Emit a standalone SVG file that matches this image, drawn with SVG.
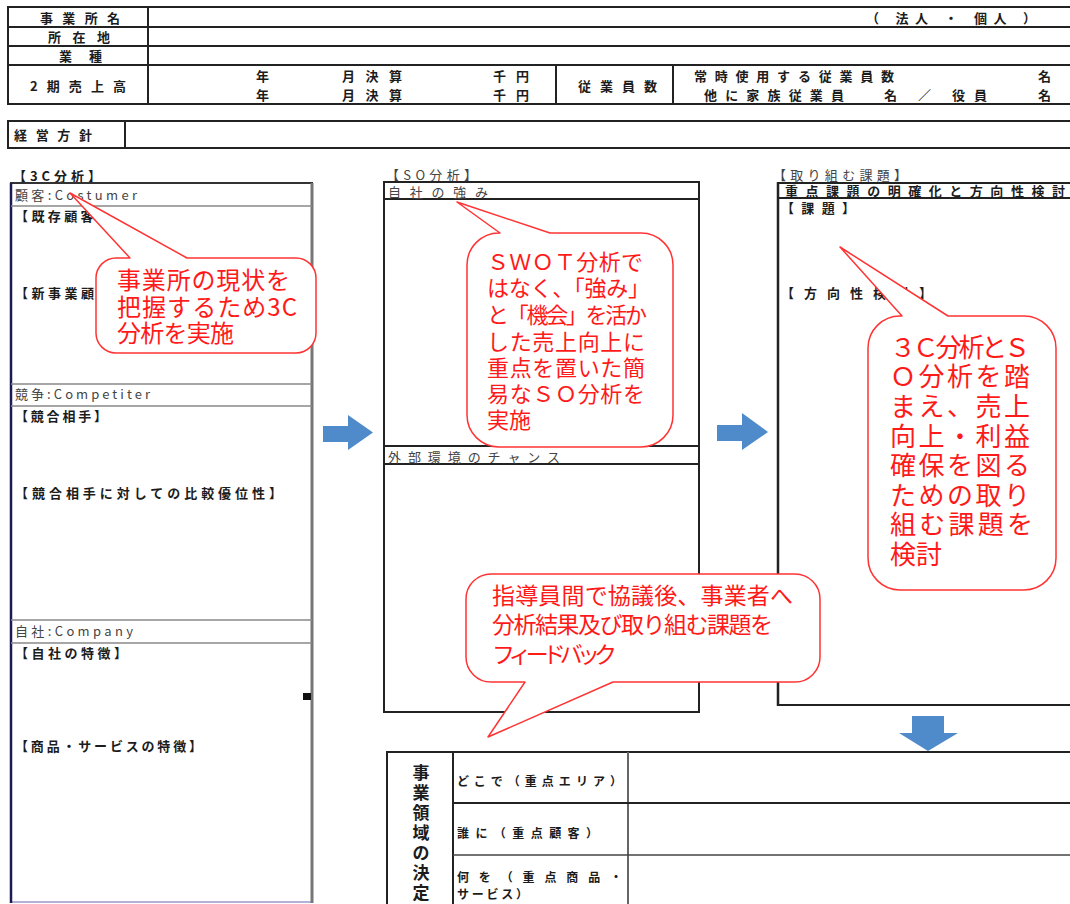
<svg xmlns="http://www.w3.org/2000/svg" width="1070" height="904" viewBox="0 0 1070 904">
<style>
text{font-family:"Noto Sans CJK JP","Noto Sans",sans-serif;}
.f{font-size:13px;fill:#1c1c1c;font-weight:bold;dominant-baseline:central;}
.g{font-size:13px;fill:#444;dominant-baseline:central;}
.v{font-size:17px;fill:#1c1c1c;font-weight:bold;dominant-baseline:central;text-anchor:middle;}
.tb{fill:none;stroke:#222;stroke-width:2;}
.ln{stroke:#222;stroke-width:2;fill:none;}
.gl{stroke:#888;stroke-width:1.5;fill:none;}
.co{fill:#fff;stroke:#ff3333;stroke-width:1.5;stroke-linejoin:round;}
.ct{fill:#ff1a1a;dominant-baseline:central;}
.arr{fill:#4f8bcb;}
</style>

<g id="header-table">
  <rect x="8" y="7" width="1070" height="97" class="tb"/>
  <line x1="8" y1="27" x2="1078" y2="27" class="ln"/>
  <line x1="8" y1="46" x2="1078" y2="46" class="ln"/>
  <line x1="8" y1="65" x2="1078" y2="65" class="ln"/>
  <line x1="148" y1="7" x2="148" y2="104" class="ln"/>
  <line x1="556" y1="65" x2="556" y2="104" class="ln"/>
  <line x1="673" y1="65" x2="673" y2="104" class="ln"/>
  <text x="40" y="17" class="f" textLength="80" lengthAdjust="spacing">事業所名</text>
  <text x="48" y="36.5" class="f" textLength="62" lengthAdjust="spacing">所在地</text>
  <text x="59" y="55.5" class="f" textLength="43" lengthAdjust="spacing">業種</text>
  <text x="30" y="85" class="f" textLength="96" lengthAdjust="spacing">2期売上高</text>
  <text x="866" y="17" class="f" textLength="170" lengthAdjust="spacing">（ 法人 ・ 個人 ）</text>
  <text x="256" y="75.5" class="f">年</text>
  <text x="342" y="75.5" class="f" textLength="60" lengthAdjust="spacing">月決算</text>
  <text x="493" y="75.5" class="f" textLength="36" lengthAdjust="spacing">千円</text>
  <text x="256" y="94.5" class="f">年</text>
  <text x="342" y="94.5" class="f" textLength="60" lengthAdjust="spacing">月決算</text>
  <text x="493" y="94.5" class="f" textLength="36" lengthAdjust="spacing">千円</text>
  <text x="578" y="85" class="f" textLength="79" lengthAdjust="spacing">従業員数</text>
  <text x="694" y="75.5" class="f" textLength="200" lengthAdjust="spacing">常時使用する従業員数</text>
  <text x="1038" y="75.5" class="f">名</text>
  <text x="704" y="94.5" class="f" textLength="140" lengthAdjust="spacing">他に家族従業員</text>
  <text x="884" y="94.5" class="f" textLength="103" lengthAdjust="spacing">名 ／ 役員</text>
  <text x="1038" y="94.5" class="f">名</text>
</g>

<g id="policy-row">
  <rect x="8" y="121" width="1070" height="27" class="tb"/>
  <line x1="125" y1="121" x2="125" y2="148" class="ln"/>
  <text x="14" y="134.5" class="f" textLength="78" lengthAdjust="spacing">経営方針</text>
</g>

<g id="analysis-3c">
  <text x="13" y="175" class="f" textLength="88" lengthAdjust="spacing">【3C分析】</text>
  <line x1="10" y1="183" x2="313" y2="183" stroke="#333" stroke-width="2"/>
  <line x1="10" y1="902" x2="313" y2="902" stroke="#9999cc" stroke-width="1.5"/>
  <line x1="11" y1="183" x2="11" y2="903" stroke="#1a1a55" stroke-width="2.5"/>
  <line x1="312" y1="183" x2="312" y2="903" stroke="#777" stroke-width="3"/>
  <line x1="11" y1="206" x2="312" y2="206" class="gl"/>
  <line x1="11" y1="384" x2="312" y2="384" class="gl"/>
  <line x1="11" y1="406" x2="312" y2="406" class="gl"/>
  <line x1="11" y1="620" x2="312" y2="620" class="gl"/>
  <line x1="11" y1="643" x2="312" y2="643" class="gl"/>
  <rect x="303" y="693" width="8" height="7" fill="#111"/>
  <text x="15" y="194" class="g" textLength="122" lengthAdjust="spacing">顧客:Costumer</text>
  <text x="15" y="215" class="f" textLength="95" lengthAdjust="spacing">【既存顧客】</text>
  <text x="15" y="292" class="f" textLength="112" lengthAdjust="spacing">【新事業顧客】</text>
  <text x="15" y="393" class="g" textLength="135" lengthAdjust="spacing">競争:Competiter</text>
  <text x="15" y="415" class="f" textLength="92" lengthAdjust="spacing">【競合相手】</text>
  <text x="15" y="492" class="f" textLength="267" lengthAdjust="spacing">【競合相手に対しての比較優位性】</text>
  <text x="15" y="630" class="g" textLength="118" lengthAdjust="spacing">自社:Company</text>
  <text x="15" y="652" class="f" textLength="112" lengthAdjust="spacing">【自社の特徴】</text>
  <text x="15" y="745" class="f" textLength="187" lengthAdjust="spacing">【商品・サービスの特徴】</text>
</g>

<g id="analysis-so">
  <text x="386" y="174" class="g" textLength="91" lengthAdjust="spacing">【SO分析】</text>
  <rect x="384" y="182" width="315" height="530" fill="none" stroke="#222" stroke-width="2"/>
  <line x1="384" y1="199" x2="699" y2="199" class="ln"/>
  <line x1="384" y1="446" x2="699" y2="446" class="ln"/>
  <line x1="384" y1="464" x2="699" y2="464" class="ln"/>
  <text x="388" y="191" class="g" textLength="100" lengthAdjust="spacing">自社の強み</text>
  <text x="388" y="456" class="g" textLength="172" lengthAdjust="spacing">外部環境のチャンス</text>
</g>

<g id="issues">
  <text x="773" y="174" class="g" textLength="134" lengthAdjust="spacing">【取り組む課題】</text>
  <line x1="778" y1="183" x2="1075" y2="183" class="ln"/>
  <line x1="778" y1="198" x2="1075" y2="198" class="ln"/>
  <line x1="778" y1="705" x2="1075" y2="705" class="ln"/>
  <line x1="778" y1="182" x2="778" y2="706" stroke="#222" stroke-width="2.5"/>
  <text x="785" y="190.5" class="f" textLength="280" lengthAdjust="spacing">重点課題の明確化と方向性検討</text>
  <text x="781" y="207" class="f" textLength="74" lengthAdjust="spacing">【課題】</text>
  <text x="781" y="292" class="f" textLength="151" lengthAdjust="spacing">【方向性検討】</text>
</g>

<g id="business-domain">
  <rect x="387" y="752" width="700" height="200" fill="none" stroke="#222" stroke-width="2"/>
  <line x1="453" y1="752" x2="453" y2="904" class="ln"/>
  <line x1="628" y1="752" x2="628" y2="904" stroke="#666" stroke-width="2"/>
  <line x1="453" y1="803" x2="1075" y2="803" class="ln"/>
  <line x1="453" y1="855" x2="1075" y2="855" stroke="#444" stroke-width="1.5"/>
  <text x="421" y="771" class="v">事</text>
  <text x="421" y="791" class="v">業</text>
  <text x="421" y="811" class="v">領</text>
  <text x="421" y="831" class="v">域</text>
  <text x="421" y="851" class="v">の</text>
  <text x="421" y="871" class="v">決</text>
  <text x="421" y="891" class="v">定</text>
  <text x="457" y="780" class="f" style="font-size:12px" textLength="165" lengthAdjust="spacing">どこで（重点エリア）</text>
  <text x="457" y="832" class="f" style="font-size:12px" textLength="141" lengthAdjust="spacing">誰に（重点顧客）</text>
  <text x="457" y="876" class="f" style="font-size:12px" textLength="165" lengthAdjust="spacing">何を（重点商品・</text>
  <text x="457" y="893" class="f" style="font-size:12px" textLength="71" lengthAdjust="spacing">サービス）</text>
</g>

<g id="connectors">
  <path class="arr" d="M323 426 L348 426 L348 415 L373 432.5 L348 450 L348 442 L323 442 Z"/>
  <path class="arr" d="M717 425 L742 425 L742 413 L768 432 L742 450 L742 441 L717 441 Z"/>
  <path class="arr" d="M912 716 L944 716 L944 733 L958 733 L928 751 L899 733 L912 733 Z"/>
</g>

<g id="callout-3c">
  <path class="co" d="M116 258 L130 258 L70 193 L187 258 L296 258 A20 20 0 0 1 316 278 L316 333 A20 20 0 0 1 296 353 L116 353 A20 20 0 0 1 96 333 L96 278 A20 20 0 0 1 116 258 Z"/>
  <text x="117" y="278" class="ct" style="font-size:24px" textLength="173" lengthAdjust="spacing">事業所の現状を</text>
  <text x="117" y="305" class="ct" style="font-size:24px" textLength="180" lengthAdjust="spacing">把握するため3C</text>
  <text x="117" y="331" class="ct" style="font-size:24px" textLength="117" lengthAdjust="spacing">分析を実施</text>
</g>

<g id="callout-so">
  <path class="co" d="M499 233 L500 233 L457 202 L550 233 L641 233 A32 32 0 0 1 673 265 L673 415 A32 32 0 0 1 641 447 L499 447 A32 32 0 0 1 467 415 L467 265 A32 32 0 0 1 499 233 Z"/>
  <text x="487" y="260" class="ct" style="font-size:22px" textLength="156" lengthAdjust="spacing">ＳＷＯＴ分析で</text>
  <text x="487" y="286" class="ct" style="font-size:22px" textLength="163" lengthAdjust="spacing">はなく、「強み」</text>
  <text x="487" y="313" class="ct" style="font-size:22px" textLength="160" lengthAdjust="spacing">と「機会」を活か</text>
  <text x="487" y="340" class="ct" style="font-size:22px" textLength="158" lengthAdjust="spacing">した売上向上に</text>
  <text x="487" y="366" class="ct" style="font-size:22px" textLength="158" lengthAdjust="spacing">重点を置いた簡</text>
  <text x="487" y="392" class="ct" style="font-size:22px" textLength="158" lengthAdjust="spacing">易なＳＯ分析を</text>
  <text x="487" y="418" class="ct" style="font-size:22px" textLength="44" lengthAdjust="spacing">実施</text>
</g>

<g id="callout-issues">
  <path class="co" d="M900 316 L902 316 L840 247 L948 316 L1024 316 A32 32 0 0 1 1056 348 L1056 558 A32 32 0 0 1 1024 590 L900 590 A32 32 0 0 1 868 558 L868 348 A32 32 0 0 1 900 316 Z"/>
  <text x="890" y="345" class="ct" style="font-size:26px" textLength="140" lengthAdjust="spacing">３Ｃ分析とＳ</text>
  <text x="890" y="374.5" class="ct" style="font-size:26px" textLength="140" lengthAdjust="spacing">Ｏ分析を踏</text>
  <text x="890" y="404" class="ct" style="font-size:26px" textLength="140" lengthAdjust="spacing">まえ、売上</text>
  <text x="890" y="434" class="ct" style="font-size:26px" textLength="140" lengthAdjust="spacing">向上・利益</text>
  <text x="890" y="463" class="ct" style="font-size:26px" textLength="140" lengthAdjust="spacing">確保を図る</text>
  <text x="890" y="493" class="ct" style="font-size:26px" textLength="140" lengthAdjust="spacing">ための取り</text>
  <text x="890" y="522" class="ct" style="font-size:26px" textLength="143" lengthAdjust="spacing">組む課題を</text>
  <text x="890" y="552" class="ct" style="font-size:26px" textLength="52" lengthAdjust="spacing">検討</text>
</g>

<g id="callout-feedback">
  <path class="co" d="M491 574 L795 574 A25 25 0 0 1 820 599 L820 657 A25 25 0 0 1 795 682 L613 682 L488 737 L525 682 L491 682 A25 25 0 0 1 466 657 L466 599 A25 25 0 0 1 491 574 Z"/>
  <text x="492" y="594" class="ct" style="font-size:23px" textLength="301" lengthAdjust="spacing">指導員間で協議後、事業者へ</text>
  <text x="492" y="623" class="ct" style="font-size:23px" textLength="281" lengthAdjust="spacing">分析結果及び取り組む課題を</text>
  <text x="492" y="653" class="ct" style="font-size:23px" textLength="125" lengthAdjust="spacing">フィードバック</text>
</g>
</svg>
